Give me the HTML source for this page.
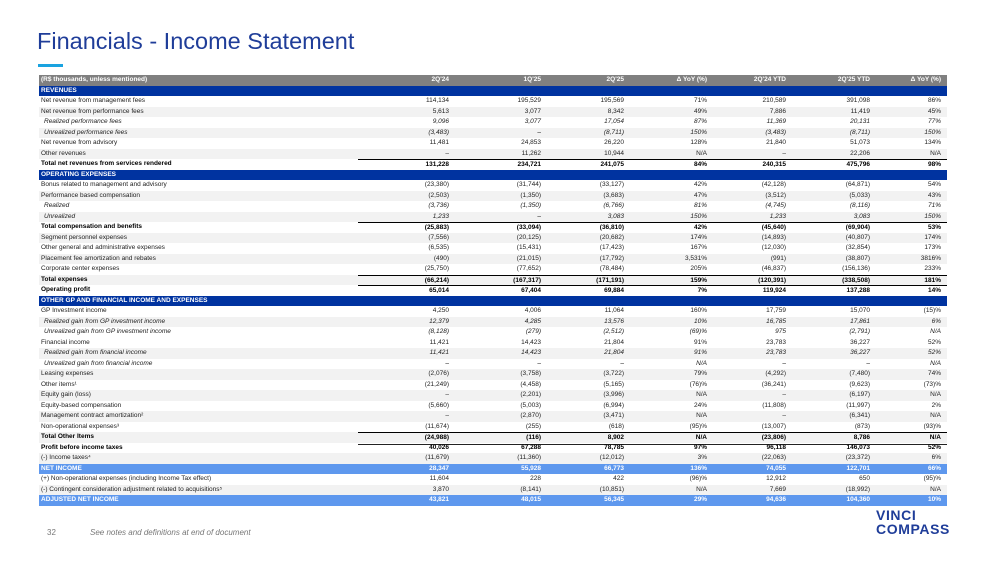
<!DOCTYPE html>
<html><head><meta charset="utf-8"><style>
body{margin:0;width:1000px;height:561px;background:#fff;position:relative;overflow:hidden;font-family:"Liberation Sans",sans-serif}
.title{position:absolute;left:37px;top:28px;font-size:23.5px;color:#1f3d99;white-space:nowrap}
.bar{position:absolute;left:38px;top:64px;width:25px;height:3px;background:#1aa3e0}
#tbl{position:absolute;left:39px;top:75px;width:908px}
.row{display:grid;grid-template-columns:319px 91px 92px 83px 83px 79px 84px 71px 6px;height:10.5px;line-height:10.5px;font-size:6.5px;color:#222;white-space:nowrap}
.row>div{text-align:right;overflow:visible}
.row>div.lbl{text-align:left;padding-left:2px}
.g{background:#f2f2f2}
.hd{background:#808080;color:#fff;font-weight:bold}
.sec{background:#0033a0;color:#fff;font-weight:bold}
.ni{background:#5e98ee;color:#fff;font-weight:bold}
.b{font-weight:bold;color:#000}
.i{font-style:italic}
.i>div.lbl{padding-left:5px}
.t>div:not(.lbl){border-top:1px solid #000;box-sizing:border-box}
.bb>div:not(.lbl){border-bottom:1.5px solid #222;box-sizing:border-box}
.foot{position:absolute;top:528px;font-size:8px;color:#777}
.logo{position:absolute;left:876px;top:508px;color:#1f3d99;font-weight:bold;font-size:14px;line-height:14px;letter-spacing:0.6px}
</style></head><body>
<div class="title">Financials - Income Statement</div>
<div class="bar"></div>
<div id="tbl"></div>
<div class="foot" style="left:47px">32</div>
<div class="foot" style="left:90px;font-style:italic">See notes and definitions at end of document</div>
<div class="logo">VINCI<br>COMPASS</div>
<script>
const header=["(R$ thousands, unless mentioned)","2Q'24","1Q'25","2Q'25","\u0394 YoY (%)","2Q'24 YTD","2Q'25 YTD","\u0394 YoY (%)"];
const D="\u2013";
const rows=[
["sec","REVENUES"],
["","Net revenue from management fees","114,134","195,529","195,569","71%","210,589","391,098","86%"],
["g","Net revenue from performance fees","5,613","3,077","8,342","49%","7,886","11,419","45%"],
["i","Realized performance fees","9,096","3,077","17,054","87%","11,369","20,131","77%"],
["i g","Unrealized performance fees","(3,483)",D,"(8,711)","150%","(3,483)","(8,711)","150%"],
["","Net revenue from advisory","11,481","24,853","26,220","128%","21,840","51,073","134%"],
["g","Other revenues",D,"11,262","10,944","N/A",D,"22,206","N/A"],
["b t","Total net revenues from services rendered","131,228","234,721","241,075","84%","240,315","475,796","98%"],
["sec","OPERATING EXPENSES"],
["","Bonus related to management and advisory","(23,380)","(31,744)","(33,127)","42%","(42,128)","(64,871)","54%"],
["g","Performance based compensation","(2,503)","(1,350)","(3,683)","47%","(3,512)","(5,033)","43%"],
["i","Realized","(3,736)","(1,350)","(6,766)","81%","(4,745)","(8,116)","71%"],
["i g","Unrealized","1,233",D,"3,083","150%","1,233","3,083","150%"],
["b t","Total compensation and benefits","(25,883)","(33,094)","(36,810)","42%","(45,640)","(69,904)","53%"],
["g","Segment personnel expenses","(7,556)","(20,125)","(20,682)","174%","(14,893)","(40,807)","174%"],
["","Other general and administrative expenses","(6,535)","(15,431)","(17,423)","167%","(12,030)","(32,854)","173%"],
["g","Placement fee amortization and rebates","(490)","(21,015)","(17,792)","3,531%","(991)","(38,807)","3816%"],
["","Corporate center expenses","(25,750)","(77,652)","(78,484)","205%","(46,837)","(156,136)","233%"],
["b t g","Total expenses","(66,214)","(167,317)","(171,191)","159%","(120,391)","(338,508)","181%"],
["b t","Operating profit","65,014","67,404","69,884","7%","119,924","137,288","14%"],
["sec","OTHER GP AND FINANCIAL INCOME AND EXPENSES"],
["","GP Investment income","4,250","4,006","11,064","160%","17,759","15,070","(15)%"],
["i g","Realized gain from GP investment income","12,379","4,285","13,576","10%","16,785","17,861","6%"],
["i","Unrealized gain from  GP investment income","(8,128)","(279)","(2,512)","(69)%","975","(2,791)","N/A"],
["","Financial income","11,421","14,423","21,804","91%","23,783","36,227","52%"],
["i g","Realized gain from financial income","11,421","14,423","21,804","91%","23,783","36,227","52%"],
["i","Unrealized gain from financial income",D,D,D,"N/A",D,D,"N/A"],
["g","Leasing expenses","(2,076)","(3,758)","(3,722)","79%","(4,292)","(7,480)","74%"],
["","Other items\u00b9","(21,249)","(4,458)","(5,165)","(76)%","(36,241)","(9,623)","(73)%"],
["g","Equity gain (loss)",D,"(2,201)","(3,996)","N/A",D,"(6,197)","N/A"],
["","Equity-based compensation","(5,660)","(5,003)","(6,994)","24%","(11,808)","(11,997)","2%"],
["g","Management contract amortization\u00b2",D,"(2,870)","(3,471)","N/A",D,"(6,341)","N/A"],
["","Non-operational expenses\u00b3","(11,674)","(255)","(618)","(95)%","(13,007)","(873)","(93)%"],
["b t bb g","Total Other Items","(24,988)","(116)","8,902","N/A","(23,806)","8,786","N/A"],
["b","Profit before income taxes","40,026","67,288","78,785","97%","96,118","146,073","52%"],
["g","(-) Income taxes\u2074","(11,679)","(11,360)","(12,012)","3%","(22,063)","(23,372)","6%"],
["ni","NET INCOME","28,347","55,928","66,773","136%","74,055","122,701","66%"],
["","(+) Non-operational expenses (including Income Tax effect)","11,604","228","422","(96)%","12,912","650","(95)%"],
["g","(-) Contingent consideration adjustment related to acquisitions\u2075","3,870","(8,141)","(10,851)","N/A","7,669","(18,992)","N/A"],
["ni","ADJUSTED NET INCOME","43,821","48,015","56,345","29%","94,636","104,360","10%"]
];
const tbl=document.getElementById('tbl');
function makeRow(cls,cells,name){
  const r=document.createElement('div');
  r.className='row '+cls;
  
  
  for(let k=0;k<8;k++){
    const c=document.createElement('div');
    if(k===0)c.className='lbl';
    c.textContent=cells[k]||'';
    r.appendChild(c);
  }
  r.appendChild(document.createElement('div'));
  tbl.appendChild(r);
}
makeRow('hd',header,'table-header-row');
rows.forEach(function(x){
  const slug=x[1].toLowerCase().replace(/[^a-z0-9]+/g,'-').replace(/^-|-$/g,'');
  makeRow(x[0],x.slice(1),(x[0]==='sec'?'section-':'row-')+slug);
});
</script>
</body></html>
